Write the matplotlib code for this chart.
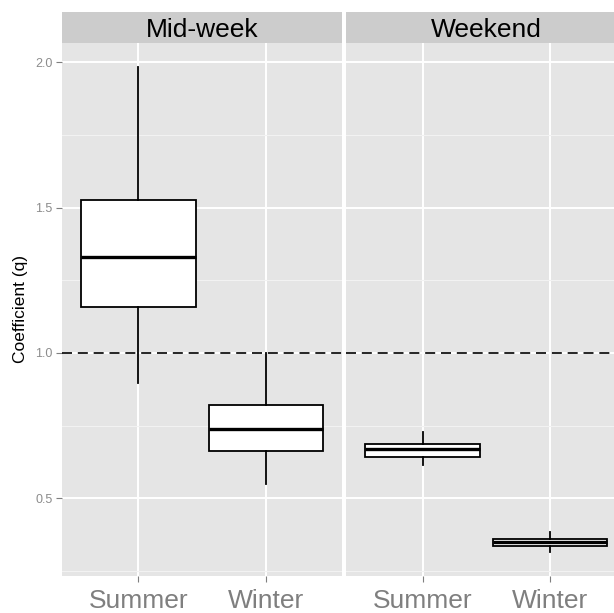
import matplotlib
matplotlib.use("Agg")
import matplotlib.pyplot as plt
from matplotlib.ticker import MultipleLocator

# ---- data ----
panels = ["Mid-week", "Weekend"]
seasons = ["Summer", "Winter"]
# per panel: [Summer, Winter]
whislo = {"Mid-week": [0.896, 0.549], "Weekend": [0.615, 0.316]}
q1     = {"Mid-week": [1.159, 0.663], "Weekend": [0.643, 0.336]}
med    = {"Mid-week": [1.329, 0.739], "Weekend": [0.669, 0.349]}
q3     = {"Mid-week": [1.526, 0.821], "Weekend": [0.687, 0.361]}
whishi = {"Mid-week": [1.984, 1.000], "Weekend": [0.729, 0.385]}
yticks = [0.5, 1.0, 1.5, 2.0]
ref_line = 1.0
ylim = (0.233, 2.067)

plt.rcParams['font.family'] = ['Liberation Sans', 'DejaVu Sans']

W, H = 614, 613
fig = plt.figure(figsize=(W / 100, H / 100), dpi=100)

def fx(px):
    return px / W

def fy(py):
    return 1 - py / H

panel_left = [62, 346.3]
panel_w = 280.3
p_top, p_bot = 42.7, 576
s_top = 11.7

for i, name in enumerate(panels):
    l = panel_left[i]
    ax = fig.add_axes([fx(l), fy(p_bot), panel_w / W, (p_bot - p_top) / H])
    ax.set_facecolor("#E5E5E5")
    for sp in ax.spines.values():
        sp.set_visible(False)
    ax.set_xlim(0.4, 2.6)
    ax.set_ylim(*ylim)
    ax.set_yticks(yticks)
    ax.set_yticks([0.25, 0.75, 1.25, 1.75], minor=True)
    ax.set_xticks([1, 2])
    ax.set_xticklabels(seasons)
    ax.grid(True, which="major", color="white", linewidth=1.4, zorder=0)
    ax.grid(True, which="minor", axis="y", color="#F2F2F2", linewidth=0.8, zorder=0)
    ax.set_axisbelow(True)
    ax.tick_params(axis="x", which="major", length=4, color="#7F7F7F", width=0.8,
                   labelsize=19, labelcolor="#7F7F7F", pad=5)
    ax.tick_params(axis="y", which="major", length=4, color="#7F7F7F", width=0.8,
                   labelsize=9, labelcolor="#8C8C8C", pad=3)
    ax.tick_params(axis="y", which="minor", length=0)
    if i > 0:
        ax.tick_params(axis="y", which="major", length=0, labelleft=False)
    else:
        ax.set_ylabel("Coefficient (q)", fontsize=12.5, color="black", labelpad=5)

    stats = []
    for j in range(len(seasons)):
        stats.append(dict(whislo=whislo[name][j], q1=q1[name][j], med=med[name][j],
                          q3=q3[name][j], whishi=whishi[name][j], fliers=[]))
    ax.bxp(stats, positions=[1, 2], widths=0.9, showcaps=False, showfliers=False,
           patch_artist=True, manage_ticks=False,
           boxprops=dict(facecolor="white", edgecolor="black", linewidth=1.3),
           whiskerprops=dict(color="black", linewidth=1.3),
           medianprops=dict(color="black", linewidth=2.4), zorder=3)
    ax.axhline(ref_line, color="black", linestyle=(0, (6, 3.5)), linewidth=1.2, zorder=4)

    # strip
    sax = fig.add_axes([fx(l), fy(p_top), panel_w / W, (p_top - s_top) / H])
    sax.set_facecolor("#CCCCCC")
    sax.set_xticks([])
    sax.set_yticks([])
    for sp in sax.spines.values():
        sp.set_visible(False)
    sax.text(0.5, 0.42, name, ha="center", va="center", fontsize=19,
             color="black", transform=sax.transAxes)

fig.savefig("out.png", dpi=100, facecolor="white")
